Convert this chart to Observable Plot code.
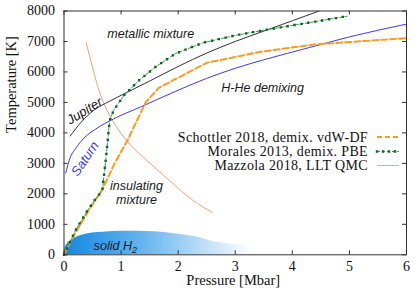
<!DOCTYPE html>
<html><head><meta charset="utf-8">
<script src="https://cdn.jsdelivr.net/npm/d3@7"></script>
<script src="https://cdn.jsdelivr.net/npm/@observablehq/plot@0.6"></script>
<style>body{margin:0;background:#fff}svg{display:block}</style>
</head><body><div id="chart"></div>
<script>
// ---- data ----
const xTicks = [0, 1, 2, 3, 4, 5, 6];
const yTicks = [0, 1000, 2000, 3000, 4000, 5000, 6000, 7000, 8000];

// Schottler 2018, demix. vdW-DF
const schP = [0, 0.14, 0.29, 0.45, 0.67, 0.9, 1.11, 1.43, 1.66, 2.5, 3.44, 4.38, 6.0];
const schT = [0, 520, 1010, 1500, 2140, 3050, 3750, 5000, 5480, 6300, 6660, 6900, 7110];
// Morales 2013, demix. PBE
const morP = [0, 0.05, 0.2, 0.4, 0.55, 0.67, 0.73, 0.76, 0.8, 0.87, 1.05, 1.31, 1.6, 1.95, 2.42, 3.0, 3.56, 4.3, 4.96];
const morT = [0, 190, 800, 1420, 1830, 2100, 3090, 3640, 4410, 4740, 5230, 5720, 6160, 6600, 6950, 7200, 7390, 7620, 7830];
// Mazzola 2018, LLT QMC
const mazP = [0.39, 0.5, 0.62, 0.75, 0.9, 1.12, 1.45, 1.84, 2.25, 2.6];
const mazT = [6950, 6150, 5350, 4750, 4250, 3700, 3100, 2450, 1800, 1390];
// Jupiter isentrope
const jupP = [0.11, 0.3, 0.52, 0.8, 1.05, 1.5, 2.0, 2.5, 3.0, 3.5, 4.0, 4.47];
const jupT = [3900, 4350, 4740, 5040, 5280, 5700, 6180, 6620, 7000, 7340, 7680, 8000];
// Saturn isentrope
const satP = [0.03, 0.1, 0.2, 0.35, 0.55, 0.87, 1.34, 1.95, 2.5, 3.0, 3.5, 4.32, 5.0, 6.0];
const satT = [2680, 3150, 3480, 3830, 4120, 4460, 4850, 5360, 5790, 6120, 6400, 6810, 7150, 7570];
// solid H2 region boundary
const solP = [0, 0.02, 0.06, 0.11, 0.2, 0.35, 0.55, 0.8, 1.05, 1.3, 1.6, 1.9, 2.3, 2.6, 3.0, 3.3];
const solT = [0, 220, 360, 450, 560, 660, 720, 760, 775, 775, 755, 700, 590, 440, 340, 280];

// annotations
const annLabels = ["metallic mixture", "H-He demixing", "insulating\nmixture", "solid H2"];
const annP = [1.52, 3.48, 1.27, 0.9];
const annT = [7268, 5484, 2040, 305];
const jupLabel = ["Jupiter"], jupLabelP = [0.36], jupLabelT = [4720];
const satLabel = ["Saturn"], satLabelP = [0.37], satLabelT = [3150];

const legendLabels = ["Schottler 2018, demix. vdW-DF", "Morales 2013, demix. PBE", "Mazzola 2018, LLT QMC"];

// ---- build tables ----
const zip = (P, T) => P.map((p, i) => ({P: p, T: T[i]}));
const sch = zip(schP, schT), mor = zip(morP, morT), maz = zip(mazP, mazT);
const jup = zip(jupP, jupT), sat = zip(satP, satT), sol = zip(solP, solT);
const ann = annLabels.map((l, i) => ({label: l, P: annP[i], T: annT[i]}));

const W = 415, H = 298;
const mL = 63.5, mR = 9, mT = 10.5, mB = 43.7;
const plotW = W - mL - mR, plotH = H - mT - mB;

const C = {sch: "#ff9a1f", morLine: "#43a047", morDot: "#0b6623", maz: "#f4a07e", jup: "#333333", sat: "#3a3af0"};
const sans = "'Liberation Sans', Arial, sans-serif";
const serif = "'Liberation Serif', 'Times New Roman', serif";

const chart = Plot.plot({
  width: W, height: H,
  marginLeft: mL, marginRight: mR, marginTop: mT, marginBottom: mB,
  x: {domain: [0, 6]},
  y: {domain: [0, 8000]},
  style: {fontFamily: serif, fontSize: "14px", color: "#111", background: "#fff"},
  marks: [
    Plot.areaY(sol, {x: "P", y: "T", fill: "url(#solidGrad)", curve: "monotone-x"}),
    Plot.line(maz, {x: "P", y: "T", stroke: C.maz, strokeWidth: 1, curve: "monotone-x"}),
    Plot.line(sat, {x: "P", y: "T", stroke: C.sat, strokeWidth: 1, curve: "monotone-x"}),
    Plot.line(jup, {x: "P", y: "T", stroke: C.jup, strokeWidth: 1, curve: "monotone-x", clip: true}),
    Plot.line(sch, {x: "P", y: "T", stroke: C.sch, strokeWidth: 2, strokeDasharray: "6,3"}),
    Plot.line(mor, {x: "P", y: "T", stroke: C.morLine, strokeWidth: 1, strokeDasharray: "3,2"}),
    Plot.line(mor, {x: "P", y: "T", stroke: C.morDot, strokeWidth: 2.4, strokeDasharray: "0,7", strokeLinecap: "square"}),
    Plot.text(ann, {x: "P", y: "T", text: "label", fontFamily: sans, fontStyle: "italic", fontSize: 12.5, fill: "#1a1a1a", lineHeight: 1.15}),
    Plot.text(jupLabel, {x: () => jupLabelP[0], y: () => jupLabelT[0], text: d => d, rotate: -32, fontFamily: sans, fontStyle: "italic", fontSize: 13, fill: "#111"}),
    Plot.text(satLabel, {x: () => satLabelP[0], y: () => satLabelT[0], text: d => d, rotate: -56, fontFamily: sans, fontStyle: "italic", fontSize: 13, fill: C.sat}),
    Plot.axisX({ticks: xTicks, tickFormat: d3.format("d"), tickSize: 0, tickPadding: 6, label: null, fontFamily: serif, fontSize: 14}),
    Plot.axisY({ticks: yTicks, tickFormat: d3.format("d"), tickSize: 0, tickPadding: 9, label: null, fontFamily: serif, fontSize: 14}),
    Plot.tickX(xTicks, {x: d => d, insetTop: plotH - 4, stroke: "#333"}),
    Plot.tickX(xTicks, {x: d => d, insetBottom: plotH - 4, stroke: "#333"}),
    Plot.tickY(yTicks, {y: d => d, insetRight: plotW - 4, stroke: "#333"}),
    Plot.tickY(yTicks, {y: d => d, insetLeft: plotW - 4, stroke: "#333"}),
    Plot.frame({stroke: "#333", strokeWidth: 1}),
    Plot.text(["Pressure [Mbar]"], {frameAnchor: "bottom", dy: 30.5, dx: -2, text: d => d, fontFamily: serif, fontSize: 14.5}),
    Plot.text(["Temperature [K]"], {frameAnchor: "left", dx: -52.5, text: d => d, rotate: -90, fontFamily: serif, fontSize: 14.5})
  ]
});

const svg = d3.select(chart);
// gradient for the solid H2 region
const grad = svg.insert("defs", ":first-child").append("linearGradient")
  .attr("id", "solidGrad").attr("x1", "0").attr("x2", "1").attr("y1", "0").attr("y2", "0");
grad.append("stop").attr("offset", "0%").attr("stop-color", "#1487e2");
grad.append("stop").attr("offset", "40%").attr("stop-color", "#62b2ee");
grad.append("stop").attr("offset", "100%").attr("stop-color", "#ffffff");

// subscript for H2
svg.selectAll("text").filter(function () { return this.textContent === "solid H2"; }).each(function () {
  const t = d3.select(this);
  t.text("solid H");
  t.append("tspan").attr("dy", "0.3em").attr("font-size", "0.72em").text("2");
});

// legend (top-right, inside plot)
const xs = chart.scale("x"), ys = chart.scale("y");
const frameRight = xs.apply(6), frameTop = ys.apply(8000);
const lg = svg.append("g").attr("font-family", serif).attr("font-size", 14).attr("letter-spacing", "0.35px");
const rowY = [126.5, 141, 155];
const styles = [
  [{stroke: C.sch, "stroke-width": 2, "stroke-dasharray": "5,3"}],
  [{stroke: C.morLine, "stroke-width": 1, "stroke-dasharray": "3,2"}, {stroke: C.morDot, "stroke-width": 2.4, "stroke-dasharray": "0,6", "stroke-linecap": "square"}],
  [{stroke: C.maz, "stroke-width": 1}]
];
legendLabels.forEach((lab, i) => {
  const yy = frameTop + rowY[i];
  lg.append("text").attr("x", frameRight - 38).attr("y", yy).attr("dy", "0.35em").attr("text-anchor", "end").attr("fill", "#111").text(lab);
  styles[i].forEach(s => {
    const l = lg.append("line").attr("x1", frameRight - 29).attr("x2", frameRight - 7).attr("y1", yy).attr("y2", yy);
    Object.entries(s).forEach(([k, v]) => l.attr(k, v));
  });
});

document.getElementById("chart").appendChild(chart);
</script>
</body></html>
